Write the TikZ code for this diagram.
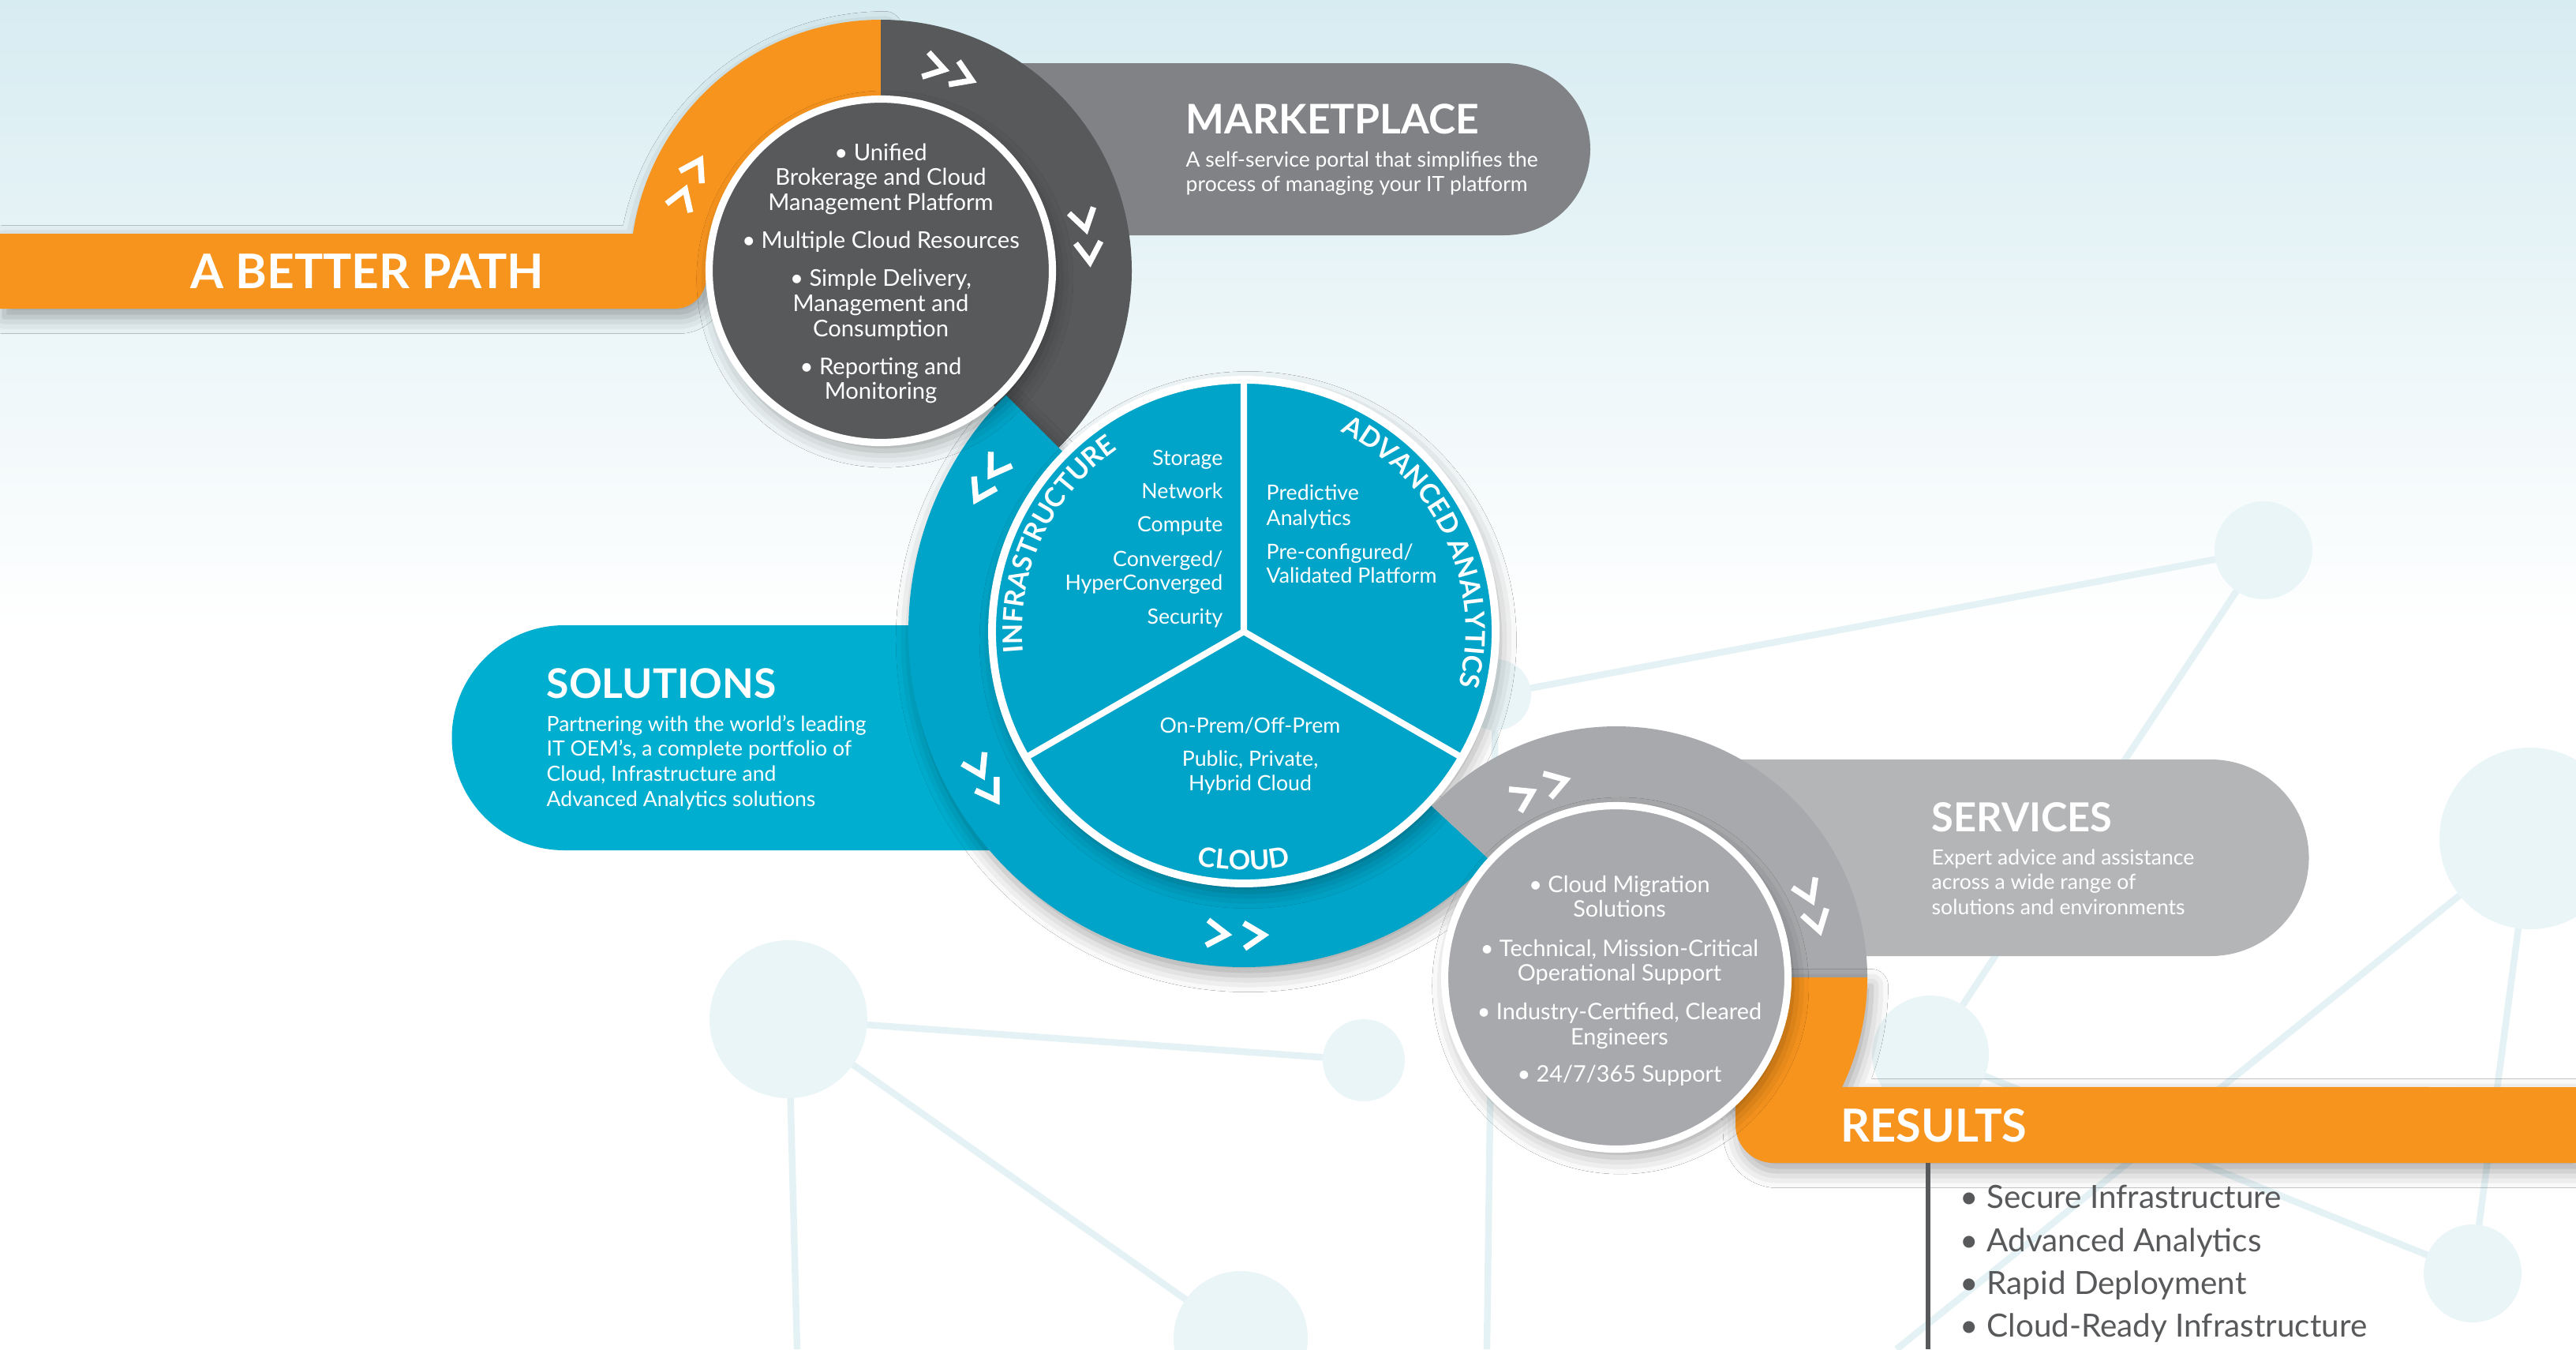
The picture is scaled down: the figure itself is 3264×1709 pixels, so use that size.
\documentclass[tikz,border=0pt]{standalone}
\usepackage{fontspec}
\setmainfont{Lato}
\usetikzlibrary{calc,decorations.text,shadows.blur}
\definecolor{orng}{HTML}{F7941D}
\definecolor{dgrey}{HTML}{58595B}
\definecolor{mgrey}{HTML}{808285}
\definecolor{lgrey}{HTML}{A7A9AC}
\definecolor{pgrey}{HTML}{B4B5B7}
\definecolor{blu}{HTML}{00A4C8}
\definecolor{blupill}{HTML}{00AFD0}
\definecolor{bgtop}{HTML}{D7ECF1}
\definecolor{netc}{HTML}{EAF5F8}
\definecolor{netl}{HTML}{E5F2F5}
\newcommand{\myfs}[2]{\fontsize{#1}{#2}\selectfont}
\tikzset{
  chev/.pic={\draw[white,line width=2.1pt,line join=miter,line cap=butt] (-13,16) -- (12,0) -- (-13,-16);},
  shd/.style={blur shadow={shadow xshift=1.5pt,shadow yshift=-3pt,shadow blur radius=6pt,shadow opacity=35}},
  head/.style={text=white,font=\myfs{14.7}{17}\bfseries,inner sep=0pt,anchor=base west},
  desc/.style={text=white,font=\myfs{7.55}{9}\selectfont,inner sep=0pt,anchor=base west},
  ctxt/.style={text=white,font=\myfs{8.3}{10},inner sep=0pt,anchor=base},
  ptxt/.style={text=white,font=\myfs{7.6}{9},inner sep=0pt},
  rtxt/.style={text=dgrey,font=\myfs{11.5}{13},inner sep=0pt,anchor=base west},
  netline/.style={netl,line width=2.4pt},
  curv/.style={decorate,decoration={text along path,text align=center,text color=white,text={|\myfs{9.7}{11}\bfseries|#1}}},
}
\begin{document}
\begin{tikzpicture}[x=0.01cm,y=0.01cm]
\useasboundingbox (0,-1709) rectangle (3264,0);
\fill[white] (0,-1709) rectangle (3264,0);
\shade[top color=bgtop,bottom color=white] (0,-800) rectangle (3264,0);
\coordinate (C1) at (1116,-343);
\coordinate (C2) at (1576,-800);
\coordinate (C3) at (2048,-1238);
% network decoration
\coordinate (n1) at (2868,-697);
\coordinate (n2) at (3206,-1062);
\coordinate (n3) at (3133,-1613);
\coordinate (n4) at (2446,-1335);
\coordinate (n5) at (999,-1291);
\coordinate (n6) at (1728,-1343);
\coordinate (n7) at (1572,-1695);
\coordinate (n8) at (1895,-880);
\coordinate (e1) at (2403,-1709);
\coordinate (e2) at (1010,-1709);
\coordinate (e3) at (1884,-1709);
\draw[netline] (n8) -- (n1) (n1) -- (n4) (n2) -- (n3) (n2) -- (e1) (n4) -- (n3)
  (n5) -- (n6) (n5) -- (e2) (n5) -- (n7) (n8) -- (e3);
\fill[netc] (n1) circle[radius=62] (n2) circle[radius=115] (n3) circle[radius=62]
  (n4) circle[radius=74] (n5) circle[radius=100] (n6) circle[radius=52]
  (n7) circle[radius=85] (n8) circle[radius=45];
% marketplace pill
\fill[mgrey] (1116,-80) -- (1906,-80) arc[start angle=90,end angle=-90,radius=109] -- (1116,-298) -- cycle;
% orange top path
\fill[orng,shd] (0,-296) -- (802,-296) arc[start angle=171.5,end angle=90,radius=318] -- (1116,-343) -- (895,-343) -- (895,-351) arc[start angle=0,end angle=-90,radius=40] -- (0,-391) -- cycle;
% dark ring
\fill[dgrey] ($(C1)+(90:318)$) arc[start angle=90,end angle=-50,radius=318] -- ($(C1)+(-50:212)$) arc[start angle=-50,end angle=90,radius=212] -- cycle;
% solutions pill
\fill[blupill] (1576,-792) -- (715,-792) arc[start angle=90,end angle=270,radius=142.5] -- (1576,-1077) -- cycle;
% blue ring
\fill[blu,shd] ($(C2)+(135.19:425)$) arc[start angle=135.19,end angle=317.14,radius=425] -- ($(C2)+(317.14:318)$) arc[start angle=317.14,end angle=135.19,radius=318] -- cycle;
% dark inner circle
\filldraw[fill=dgrey,draw=white,line width=2.6pt,shd] (C1) circle[radius=217.5];
% pie
\filldraw[fill=blu,draw=white,line width=2.8pt,shd] (C2) circle[radius=319];
\draw[white,line width=2.3pt] (C2) -- ++(90:316) (C2) -- ++(210:316) (C2) -- ++(330:316);
% services pill
\fill[pgrey] (2048,-962) -- (2801,-962) arc[start angle=90,end angle=-90,radius=124.5] -- (2048,-1211) -- cycle;
% grey ring
\fill[lgrey] ($(C3)+(137.14:318)$) arc[start angle=137.14,end angle=0,radius=318] -- ($(C3)+(0:212)$) arc[start angle=0,end angle=137.14,radius=212] -- cycle;
% orange lower + results bar
\fill[orng,shd] ($(C3)+(0:318)$) arc[start angle=0,end angle=-25.9,radius=318] -- (3264,-1377) -- (3264,-1473) -- (2247,-1473) arc[start angle=270,end angle=180,radius=48] -- (2199,-1400) -- (C3) -- cycle;
% grey inner circle
\filldraw[fill=lgrey,draw=white,line width=2.6pt,shd] (C3) circle[radius=217.5];
% results line
\coordinate (rl1) at (2443,-1473);
\coordinate (rl2) at (2443,-1709);
\draw[dgrey,line width=1.7pt] (rl1) -- (rl2);
% chevrons
\pic[rotate=-15] at ($(C1)+(75:267)$) {chev};
\pic[rotate=-23] at ($(C1)+(67:267)$) {chev};
\pic[rotate=-76] at ($(C1)+(14:265)$) {chev};
\pic[rotate=-85] at ($(C1)+(5:265)$) {chev};
\pic[rotate=61] at ($(C1)+(151:268)$) {chev};
\pic[rotate=70] at ($(C1)+(160:268)$) {chev};
\pic[rotate=236.5] at ($(C2)+(146.5:377)$) {chev};
\pic[rotate=242] at ($(C2)+(152:378)$) {chev};
\pic[rotate=297] at ($(C2)+(207:378)$) {chev};
\pic[rotate=302.5] at ($(C2)+(212.5:379)$) {chev};
\pic[rotate=355] at ($(C2)+(265:384)$) {chev};
\pic[rotate=2] at ($(C2)+(272:385)$) {chev};
\pic[rotate=27] at ($(C3)+(117:258)$) {chev};
\pic[rotate=17] at ($(C3)+(107:258)$) {chev};
\pic[rotate=-66] at ($(C3)+(24:266)$) {chev};
\pic[rotate=-74.5] at ($(C3)+(15.5:264)$) {chev};
% curved pie labels
\path[curv=INFRASTRUCTURE] ($(C2)+(215:281)$) arc[start angle=215,end angle=95,radius=281];
\path[curv=ADVANCED ANALYTICS] ($(C2)+(95:281)$) arc[start angle=95,end angle=-45,radius=281];
\path[curv=CLOUD] ($(C2)+(235:302)$) arc[start angle=235,end angle=305,radius=302];
% headings
\node[head,font=\myfs{17.2}{20}\bfseries] (hbp) at (241,-365) {A BETTER PATH};
\node[head] (hmk) at (1502,-169) {MARKETPLACE};
\node[head] (hso) at (692,-884) {SOLUTIONS};
\node[head,font=\myfs{14.4}{16}\bfseries] (hse) at (2447,-1053) {SERVICES};
\node[head,font=\myfs{16.4}{19}\bfseries] (hre) at (2332,-1446) {RESULTS};
% descriptions
\node[desc] (mk1) at (1502,-211) {A self-service portal that simplifies the};
\node[desc] (mk2) at (1502,-242) {process of managing your IT platform};
\node[desc] (so1) at (692,-926) {Partnering with the world’s leading};
\node[desc] (so2) at (692,-957) {IT OEM’s, a complete portfolio of};
\node[desc] (so3) at (692,-989) {Cloud, Infrastructure and};
\node[desc] (so4) at (692,-1021) {Advanced Analytics solutions};
\node[desc] (se1) at (2447,-1095) {Expert advice and assistance};
\node[desc] (se2) at (2447,-1126) {across a wide range of};
\node[desc] (se3) at (2447,-1158) {solutions and environments};
% dark circle text
\node[ctxt] (d1) at (1116,-203) {• Unified};
\node[ctxt] (d2) at (1116,-234) {Brokerage and Cloud};
\node[ctxt] (d3) at (1116,-266) {Management Platform};
\node[ctxt] (d4) at (1116,-314) {• Multiple Cloud Resources};
\node[ctxt] (d5) at (1116,-362) {• Simple Delivery,};
\node[ctxt] (d6) at (1116,-394) {Management and};
\node[ctxt] (d7) at (1116,-426) {Consumption};
\node[ctxt] (d8) at (1116,-474) {• Reporting and};
\node[ctxt] (d9) at (1116,-505) {Monitoring};
% services circle text
\node[ctxt,font=\myfs{8.2}{10}] (s1) at (2052,-1130) {• Cloud Migration};
\node[ctxt,font=\myfs{8.2}{10}] (s2) at (2052,-1161) {Solutions};
\node[ctxt,font=\myfs{8.2}{10}] (s3) at (2052,-1211) {• Technical, Mission-Critical};
\node[ctxt,font=\myfs{8.2}{10}] (s4) at (2052,-1242) {Operational Support};
\node[ctxt,font=\myfs{8.2}{10}] (s5) at (2052,-1291) {• Industry-Certified, Cleared};
\node[ctxt,font=\myfs{8.2}{10}] (s6) at (2052,-1323) {Engineers};
\node[ctxt,font=\myfs{8.2}{10}] (s7) at (2052,-1370) {• 24/7/365 Support};
% pie texts
\node[ptxt,anchor=base east] (i1) at (1550,-589) {Storage};
\node[ptxt,anchor=base east] (i2) at (1550,-631) {Network};
\node[ptxt,anchor=base east] (i3) at (1550,-673) {Compute};
\node[ptxt,anchor=base east] (i4) at (1550,-717) {Converged/};
\node[ptxt,anchor=base east] (i5) at (1550,-747) {HyperConverged};
\node[ptxt,anchor=base east] (i6) at (1550,-790) {Security};
\node[ptxt,anchor=base west] (a1) at (1604,-633) {Predictive};
\node[ptxt,anchor=base west] (a2) at (1604,-665) {Analytics};
\node[ptxt,anchor=base west] (a3) at (1604,-708) {Pre-configured/};
\node[ptxt,anchor=base west] (a4) at (1604,-738) {Validated Platform};
\node[ptxt,anchor=base] (c1) at (1584,-928) {On-Prem/Off-Prem};
\node[ptxt,anchor=base] (c2) at (1584,-970) {Public, Private,};
\node[ptxt,anchor=base] (c3) at (1584,-1001) {Hybrid Cloud};
% results list
\node[rtxt] (r1) at (2483,-1530) {• Secure Infrastructure};
\node[rtxt] (r2) at (2483,-1585) {• Advanced Analytics};
\node[rtxt] (r3) at (2483,-1639) {• Rapid Deployment};
\node[rtxt] (r4) at (2483,-1693) {• Cloud-Ready Infrastructure};
\end{tikzpicture}
\end{document}
